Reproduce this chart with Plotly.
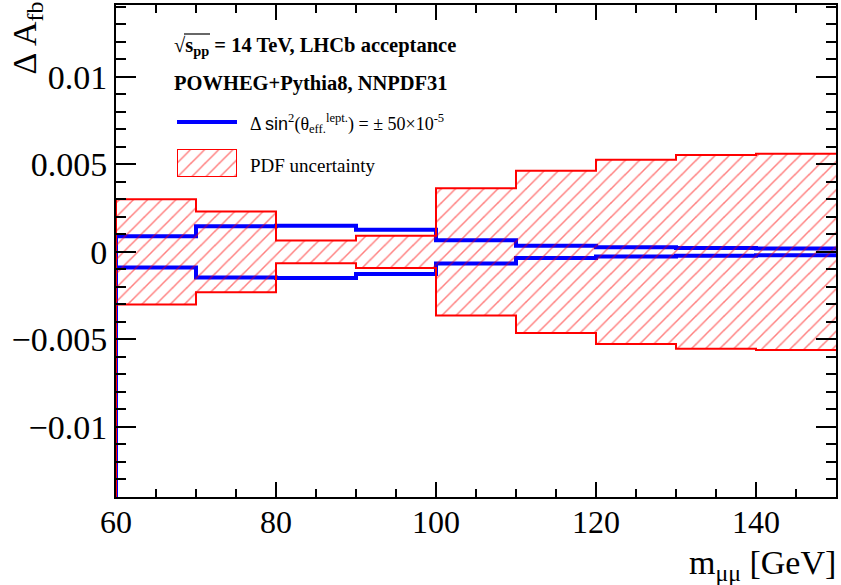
import plotly.graph_objects as go

# ---------------- data ----------------
edges = [60, 70, 80, 90, 100, 110, 120, 130, 140, 150]
pdf_unc = [0.0030, 0.0023, 0.00065, 0.00092, 0.00363, 0.00463, 0.00526, 0.00554, 0.0056]
sin2w_shift = [0.00089, 0.00147, 0.00149, 0.00126, 0.00066, 0.00035, 0.00027, 0.00022, 0.00019]

x_tickvals = [60, 80, 100, 120, 140]
x_ticktext = ["60", "80", "100", "120", "140"]
y_tickvals = [-0.01, -0.005, 0, 0.005, 0.01]
y_ticktext = ["\u22120.01", "\u22120.005", "0", "0.005", "0.01"]
x_range = [60, 150]
y_range = [-0.014, 0.0141]

# ---------------- style ----------------
W, H = 841, 585
ML, MR, MT, MB = 116, 5, 5, 88
PW, PH = W - ML - MR, H - MT - MB
SERIF = "Liberation Serif"
RED = "rgb(255,0,0)"
BLUE = "rgb(0,0,255)"


def px(x):
    return (x - ML) / PW


def py(y):
    return (H - MB - y) / PH


def steps(ed, vals, sign=1, start=None):
    xs, ys = [], []
    if start is not None:
        xs.append(ed[0])
        ys.append(start)
    for i, v in enumerate(vals):
        xs += [ed[i], ed[i + 1]]
        ys += [sign * v, sign * v]
    return xs, ys


HATCH = dict(shape="/", fgcolor=RED, bgcolor="rgba(0,0,0,0)", size=10, solidity=0.15)

fig = go.Figure()

# blue histograms (+/- shift)
for sgn in (1, -1):
    xs, ys = steps(edges, sin2w_shift, sgn, start=y_range[0])
    fig.add_trace(go.Scatter(x=xs, y=ys, mode="lines",
                             line=dict(color=BLUE, width=4), showlegend=False,
                             hoverinfo="skip"))

# hatched PDF band
ux, uy = steps(edges, pdf_unc, 1)
lx, ly = steps(edges, pdf_unc, -1)
fig.add_trace(go.Scatter(x=ux + lx[::-1], y=uy + ly[::-1], mode="lines",
                         fill="toself", fillcolor="rgba(0,0,0,0)", fillpattern=HATCH,
                         line=dict(width=0), showlegend=False, hoverinfo="skip"))

# red outlines
for sgn in (1, -1):
    xs, ys = steps(edges, pdf_unc, sgn, start=y_range[0])
    fig.add_trace(go.Scatter(x=xs, y=ys, mode="lines",
                             line=dict(color=RED, width=2), showlegend=False,
                             hoverinfo="skip"))

# legend key for the hatched box (overlay axis)
kx0, kx1, ky0, ky1 = 177, 237, 149, 177
fig.add_trace(go.Scatter(x=[0, 1, 1, 0, 0], y=[0, 0, 1, 1, 0], mode="lines",
                         xaxis="x2", yaxis="y2", fill="toself",
                         fillcolor="rgba(0,0,0,0)", fillpattern=HATCH,
                         line=dict(color=RED, width=2), showlegend=False,
                         hoverinfo="skip"))

axis_common = dict(showgrid=False, zeroline=False, showline=True, linecolor="black",
                   linewidth=2, mirror="allticks", ticks="inside", tickcolor="black",
                   tickwidth=2, automargin=False)

fig.update_layout(
    width=W, height=H,
    margin=dict(l=ML, r=MR, t=MT, b=MB, autoexpand=False),
    paper_bgcolor="white", plot_bgcolor="white",
    showlegend=False,
    xaxis=dict(range=x_range, tickmode="array", tickvals=x_tickvals, ticktext=x_ticktext,
               ticklen=15, tickfont=dict(family=SERIF, size=32, color="black"),
               ticklabelstandoff=-4,
               minor=dict(dtick=5, tick0=60, ticks="inside", ticklen=8, tickwidth=2,
                          tickcolor="black", showgrid=False),
               **axis_common),
    yaxis=dict(range=y_range, tickmode="array", tickvals=y_tickvals, ticktext=y_ticktext,
               ticklen=20, tickfont=dict(family=SERIF, size=34, color="black"),
               minor=dict(dtick=0.001, tick0=0, ticks="inside", ticklen=10, tickwidth=2,
                          tickcolor="black", showgrid=False),
               **axis_common),
    xaxis2=dict(domain=[px(kx0), px(kx1)], range=[0, 1], visible=False, anchor="y2"),
    yaxis2=dict(domain=[py(ky1), py(ky0)], range=[0, 1], visible=False, anchor="x2"),
)

# legend line key
fig.add_shape(type="line", xref="paper", yref="paper", x0=px(177), x1=px(237),
              y0=py(122), y1=py(122), line=dict(color=BLUE, width=4))

ann = [
    dict(x=px(172), y=py(46), text="<b>\u221as<sub>pp</sub> = 14 TeV, LHCb acceptance</b>",
         size=20.5),
    dict(x=px(172), y=py(83), text="<b>POWHEG+Pythia8, NNPDF31</b>", size=20.5),
    dict(x=px(248), y=py(124),
         text="\u0394 <span style='font-family:Liberation Sans'>sin</span><sup>2</sup>(\u03b8<sub>eff.</sub><sup>lept.</sup>) = \u00b1 50\u00d710<sup>-5</sup>",
         size=18),
    dict(x=px(248), y=py(165), text="PDF uncertainty", size=19),
]
for a in ann:
    fig.add_annotation(x=a["x"], y=a["y"], xref="paper", yref="paper", text=a["text"],
                       showarrow=False, xanchor="left", yanchor="middle",
                       font=dict(family=SERIF, size=a["size"], color="black"))

# overline of the square root
fig.add_shape(type="line", xref="paper", yref="paper", x0=px(184), x1=px(210),
              y0=py(34), y1=py(34), line=dict(color="black", width=1.2))

# axis titles
fig.add_annotation(x=px(27), y=py(0), xref="paper", yref="paper",
                   text="\u0394 A<sub>fb</sub>", textangle=-90, showarrow=False,
                   xanchor="center", yanchor="top",
                   font=dict(family=SERIF, size=34, color="black"))
fig.add_annotation(x=px(838), y=py(565), xref="paper", yref="paper",
                   text="m<sub>\u03bc\u03bc</sub> [GeV]", showarrow=False,
                   xanchor="right", yanchor="middle",
                   font=dict(family=SERIF, size=34, color="black"))

fig.write_html("out.html", config={"displayModeBar": False},
               post_script="document.body.style.margin='0';document.body.style.overflow='hidden';")
